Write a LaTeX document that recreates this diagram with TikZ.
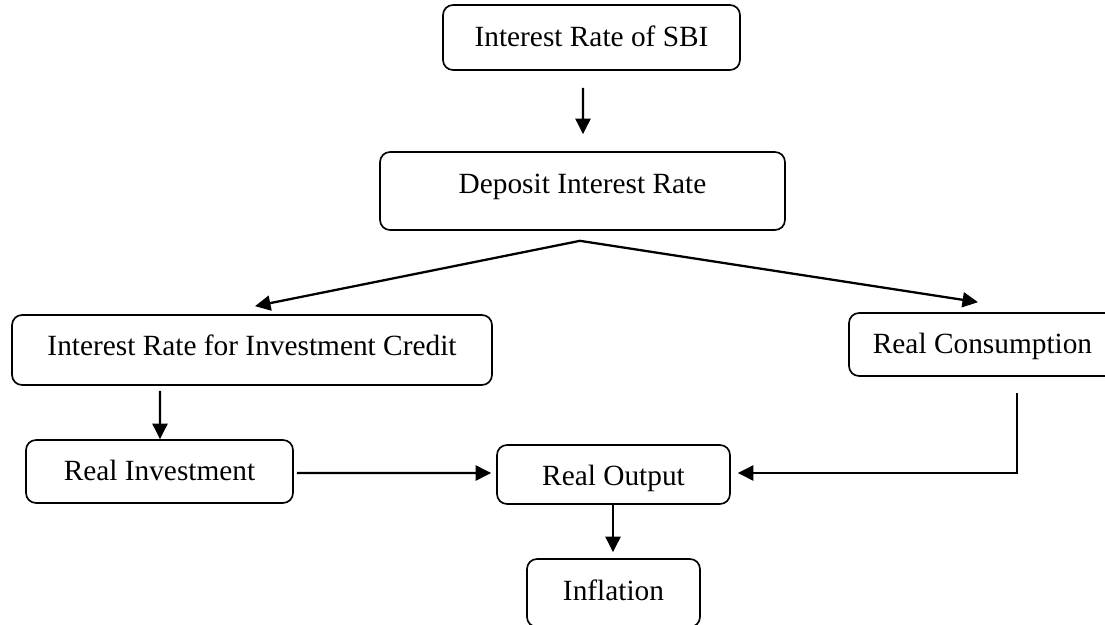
\documentclass[tikz,border=0pt]{standalone}
\usepackage{fontspec}
\setmainfont{Liberation Serif}
\usetikzlibrary{arrows.meta,calc}
\begin{document}
\begin{tikzpicture}[x=0.02cm,y=-0.02cm,
  box/.style={draw,line width=0.95pt,rounded corners=0.2cm,inner sep=0pt,
    font=\fontsize{16.7}{20}\selectfont,text height=0.48cm},
  arr/.style={line width=1.3pt,-{Triangle[length=0.31cm,width=0.30cm]}}]
\useasboundingbox (0,0) rectangle (1105,625);
\clip (0,0) rectangle (1105,625);
\node[box,minimum width=5.94cm,minimum height=1.30cm,text depth=0.10cm] (b1) at (591.5,37.5) {Interest Rate of SBI};
\node[box,minimum width=8.10cm,minimum height=1.56cm,text depth=0.40cm] (b2) at (582.5,191) {Deposit Interest Rate};
\node[box,minimum width=9.60cm,minimum height=1.40cm,text depth=0.28cm] (b3) at (252,350) {Interest Rate for Investment Credit};
\node[box,minimum width=5.34cm,minimum height=1.26cm,text depth=0.14cm] (rc) at (982.5,344.5) {Real Consumption};
\node[box,minimum width=5.34cm,minimum height=1.26cm,text depth=0.14cm] (ri) at (159.5,471.5) {Real Investment};
\node[box,minimum width=4.66cm,minimum height=1.18cm,text depth=0.06cm] (ro) at (613.5,474.5) {Real Output};
\node[box,minimum width=3.46cm,minimum height=1.36cm,text depth=0.20cm] (infl) at (613.5,593) {Inflation};
\coordinate (split) at ($(b2.south)+(-2.5,10)$);
\draw[arr] ($(b1.south)+(-8.5,17)$) -- ($(b2.north)+(0.5,-17)$);
\draw[arr] (split) -- ($(b3.north)+(3,-8)$);
\draw[arr] (split) -- ($(rc.north)+(-4.5,-10)$);
\draw[arr] ($(b3.south)+(-92,5)$) -- ($(ri.north)+(0.5,0)$);
\draw[arr] ($(ri.east)+(3,1.5)$) -- ($(ro.west)+(-5,-1.5)$);
\draw[arr] ($(rc.south)+(34.5,16)$) |- ($(ro.east)+(7,-1.5)$);
\draw[arr] ($(ro.south)+(-0.5,0)$) -- ($(infl.north)+(-0.5,-6)$);
\end{tikzpicture}
\end{document}
